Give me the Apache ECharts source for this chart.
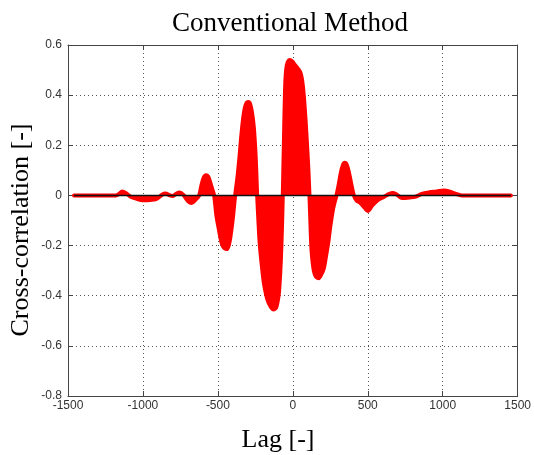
<!DOCTYPE html>
<html>
<head>
<meta charset="utf-8">
<script src="https://cdn.jsdelivr.net/npm/echarts@6/dist/echarts.min.js"></script>
<style>
  html, body { margin: 0; padding: 0; background: #fff; }
  #chart { width: 534px; height: 455px; }
</style>
</head>
<body>
<div id="chart"></div>
<script>
// lag values
var lags = [
  -1460, -1300, -1180, -1160, -1138, -1115, -1085, -1040, -1000, -950,
  -910, -870, -850, -820, -800, -775, -755, -730, -700, -675,
  -650, -625, -610, -595, -580, -565, -550, -535, -525, -510,
  -495, -475, -458, -442, -428, -415, -400, -385, -370, -355,
  -345, -333, -320, -308, -298, -285, -272, -260, -250, -244,
  -238, -228, -220, -205, -193, -170, -145, -127, -110, -95,
  -89, -80, -72, -67, -60, -52, -45, -35, -20, -5,
  15, 35, 51, 62, 73, 85, 95, 104, 111, 118,
  125, 140, 155, 173, 190, 207, 222, 236, 251, 270,
  291, 305, 320, 335, 347, 360, 375, 392, 407, 425,
  450, 480, 500, 530, 573, 610, 640, 665, 690, 727,
  780, 820, 860, 907, 960, 1007, 1050, 1084, 1127, 1300,
  1455
];
// cross-correlation at each lag
var xcorr = [
  0, 0, 0, 0.006, 0.016, 0.010, -0.004, -0.014, -0.019, -0.018,
  -0.014, 0.004, 0.008, 0, -0.002, 0.008, 0.012, 0.002, -0.022, -0.030,
  -0.018, 0, 0.04, 0.07, 0.08, 0.075, 0.05, 0.02, 0, -0.08,
  -0.13, -0.19, -0.21, -0.214, -0.2, -0.16, -0.09, 0, 0.07, 0.16,
  0.23, 0.30, 0.35, 0.37, 0.373, 0.365, 0.33, 0.27, 0.18, 0.10,
  0, -0.12, -0.20, -0.29, -0.35, -0.415, -0.447, -0.455, -0.445, -0.40,
  -0.36, -0.26, -0.12, 0, 0.2, 0.42, 0.50, 0.53, 0.54, 0.535,
  0.52, 0.505, 0.49, 0.46, 0.40, 0.30, 0.20, 0.10, 0, -0.12,
  -0.22, -0.30, -0.325, -0.33, -0.315, -0.29, -0.24, -0.19, -0.12, -0.05,
  0, 0.04, 0.09, 0.122, 0.13, 0.122, 0.09, 0.04, 0, -0.02,
  -0.03, -0.05, -0.062, -0.04, -0.016, -0.005, 0.005, 0.01, 0.005, -0.01,
  -0.008, -0.005, 0.006, 0.012, 0.016, 0.02, 0.015, 0.007, 0, 0,
  0
];
var baseline = [[-1460, 0], [1455, 0]];

var points = lags.map(function (x, i) { return [x, xcorr[i]]; });

var chart = echarts.init(document.getElementById('chart'));

var tickFont = { fontFamily: 'Liberation Sans', fontSize: 12, color: '#333' };
var gridLine = { show: true, lineStyle: { color: '#555', type: [1, 3], width: 1 } };
var frame = { show: true, onZero: false, lineStyle: { color: '#444', width: 1 } };
var ticks = { show: true, inside: true, length: 5, lineStyle: { color: '#444' } };

chart.setOption({
  animation: false,
  backgroundColor: '#fff',
  title: {
    text: 'Conventional Method',
    left: 285, top: 5, textAlign: 'center',
    textStyle: { fontFamily: 'Liberation Serif', fontSize: 27, fontWeight: 'normal', color: '#000' }
  },
  graphic: [
    { type: 'text', x: 278, y: 440, style: { text: 'Lag [-]', font: '26px "Liberation Serif"', fill: '#000', textAlign: 'center', textVerticalAlign: 'middle' } },
    { type: 'text', x: 21, y: 230, rotation: Math.PI / 2, style: { text: 'Cross-correlation [-]', font: '26px "Liberation Serif"', fill: '#000', textAlign: 'center', textVerticalAlign: 'middle' } }
  ],
  grid: { left: 68, right: 15, top: 45, bottom: 59 },
  xAxis: [
    { type: 'value', min: -1500, max: 1500, interval: 500, position: 'bottom',
      axisLine: frame, axisTick: ticks, splitLine: gridLine,
      axisLabel: Object.assign({ margin: 4, showMinLabel: true, showMaxLabel: true,
        formatter: function (v) { return String(v); } }, tickFont) },
    { type: 'value', min: -1500, max: 1500, interval: 500, position: 'top',
      axisLine: frame, axisTick: ticks, splitLine: { show: false }, axisLabel: { show: false } }
  ],
  yAxis: [
    { type: 'value', min: -0.8, max: 0.6, interval: 0.2, position: 'left',
      axisLine: frame, axisTick: ticks, splitLine: gridLine,
      axisLabel: Object.assign({ margin: 6, formatter: function (v) { return +v.toFixed(1) + ''; } }, tickFont) },
    { type: 'value', min: -0.8, max: 0.6, interval: 0.2, position: 'right',
      axisLine: frame, axisTick: ticks, splitLine: { show: false }, axisLabel: { show: false } }
  ],
  series: [
    {
      type: 'line', data: points, smooth: 0.3, symbol: 'none',
      lineStyle: { color: '#ff0000', width: 4, join: 'round', cap: 'round' },
      areaStyle: { color: '#ff0000', opacity: 1 },
      z: 2
    },
    {
      type: 'line', data: baseline, symbol: 'none',
      lineStyle: { color: '#111', width: 1.5 },
      z: 3
    }
  ]
});
</script>
</body>
</html>
